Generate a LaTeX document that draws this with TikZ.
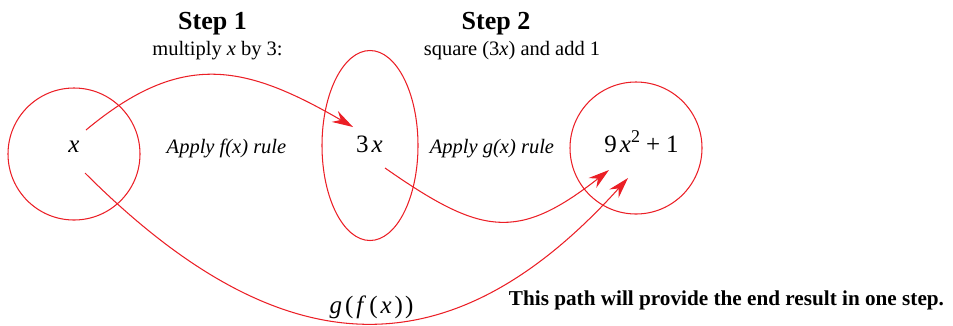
\documentclass[tikz,border=0pt]{standalone}
\usepackage{fontspec}
\setmainfont{Liberation Serif}
\usetikzlibrary{arrows.meta,shapes.geometric}
\definecolor{myred}{rgb}{0.92,0.12,0.15}
\newcommand{\vx}[1]{\textit{#1}}
\begin{document}
\begin{tikzpicture}[x=1pt,y=-1pt,
  ring/.style={draw=myred,line width=1.05pt,circle,minimum size=132pt,inner sep=0pt},
  oval/.style={draw=myred,line width=1.05pt,ellipse,minimum width=96pt,minimum height=190pt,inner sep=0pt},
  mathtxt/.style={font=\fontsize{25}{28}\selectfont,anchor=base,inner sep=0pt},
  ruletxt/.style={font=\fontsize{20.5}{24}\selectfont\itshape,anchor=base,inner sep=0pt},
  steptitle/.style={font=\fontsize{26}{30}\selectfont\bfseries,anchor=base,inner sep=0pt},
  stepdesc/.style={font=\fontsize{20.5}{24}\selectfont,anchor=base,inner sep=0pt},
  note/.style={font=\fontsize{21.2}{25}\selectfont\bfseries,anchor=base,inner sep=0pt},
  arr/.style={draw=myred,line width=1.05pt,-{Stealth[length=21pt,width=12.5pt,inset=7pt]}}
]
\useasboundingbox (0,0) rectangle (953,325);
% shapes
\node[ring] (c1) at (74,154) {};
\node[oval] (c2) at (370,145.5) {};
\node[ring] (c3) at (636,148) {};
% texts
\node[mathtxt] (t1) at (74,152) {\vx{x}};
\node[mathtxt] (t2) at (369.5,152) {3\kern3pt\vx{x}};
\node[mathtxt] (t3) at (641.5,152) {9\kern3pt\vx{x}\raisebox{10pt}{\fontsize{18}{20}\selectfont 2}\kern6pt+\kern6pt1};
\node[ruletxt] (r1) at (226.5,153) {Apply f(x) rule};
\node[ruletxt] (r2) at (492,153) {Apply g(x) rule};
\node[steptitle] (s1) at (212.5,29.5) {Step 1};
\node[stepdesc] (d1) at (217.5,55) {multiply \textit{x} by 3:};
\node[stepdesc] (d2) at (512,55) {square (3\textit{x}) and add 1};
\node[steptitle] (s2) at (496,29.5) {Step 2};
\node[mathtxt] (gf) at (371.5,313) {\vx{g}\kern3pt(\kern3pt\vx{f}\kern3pt(\kern3pt\vx{x}\kern3pt)\kern2pt)};
\node[note] (n1) at (726.5,305) {This path will provide the end result in one step.};
% connectors
\draw[arr] ([shift={(12,-22)}]t1.base) .. controls (182,50) and (245,64.5) .. ([shift={(-16.5,-25)}]t2.base);
\draw[arr] ([shift={(15.5,16)}]t2.base) .. controls (481,235) and (517,242) .. ([shift={(-32.5,18)}]t3.base);
\draw[arr] ([shift={(11,21)}]t1.base) .. controls (277,365) and (447,379) .. ([shift={(-13.5,26)}]t3.base);
\end{tikzpicture}
\end{document}
